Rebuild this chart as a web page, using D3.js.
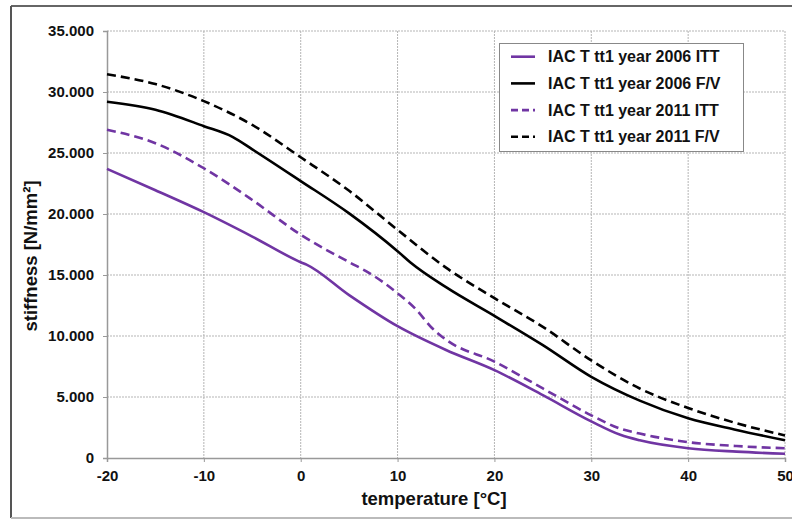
<!DOCTYPE html>
<html>
<head>
<meta charset="utf-8">
<script src="https://cdn.jsdelivr.net/npm/d3@7"></script>
<style>
    body { margin: 0; background: #fff; }
    text { font-family: "Liberation Sans", Arial, sans-serif; font-weight: bold; fill: #111; }
</style>
</head>
<body>
<div class="chart"></div>
<script>
var svgWidth = 792;
var svgHeight = 520;

var margin = { top: 31, right: 7, bottom: 62, left: 107 };
var width = svgWidth - margin.left - margin.right;
var height = svgHeight - margin.top - margin.bottom;

// data
var seriesNames = ["IAC T tt1 year 2006 ITT", "IAC T tt1 year 2006 F/V", "IAC T tt1 year 2011 ITT", "IAC T tt1 year 2011 F/V"];

var itt2006T = [-20, -15, -10, -5, 0, 0.6, 5, 10, 15, 20, 25, 30, 33, 35, 40, 45, 50];
var itt2006V = [23700, 21950, 20150, 18150, 16050, 15850, 13350, 10800, 8850, 7200, 5150, 3000, 1900, 1450, 800, 520, 350];

var fv2006T = [-20, -15, -10, -7, -5, 0, 5, 10, 11.3, 15, 20, 25, 30, 35, 40, 45, 50];
var fv2006V = [29200, 28550, 27200, 26300, 25300, 22700, 20050, 16950, 16050, 14000, 11650, 9250, 6650, 4700, 3250, 2300, 1450];

var itt2011T = [-20, -15, -10, -5, 0, 5, 7, 10, 12, 13.5, 15, 20, 25, 30, 33, 35, 40, 45, 50];
var itt2011V = [26900, 25800, 23750, 21150, 18300, 16050, 15200, 13500, 12100, 10700, 9700, 7900, 5700, 3500, 2400, 2000, 1300, 980, 800];

var fv2011T = [-20, -15, -10, -5, 0, 5, 10, 15, 20, 25, 30, 35, 40, 45, 50];
var fv2011V = [31450, 30650, 29250, 27300, 24650, 21900, 18700, 15600, 13100, 10750, 8000, 5700, 4100, 2850, 1850];

var xTicks = [-20, -10, 0, 10, 20, 30, 40, 50];
var yTicks = [0, 5000, 10000, 15000, 20000, 25000, 30000, 35000];

var purple = "#7035a3";
var series = [
    { name: seriesNames[0], t: itt2006T, v: itt2006V, color: purple, dash: null },
    { name: seriesNames[1], t: fv2006T, v: fv2006V, color: "#000", dash: null },
    { name: seriesNames[2], t: itt2011T, v: itt2011V, color: purple, dash: "9,5" },
    { name: seriesNames[3], t: fv2011T, v: fv2011V, color: "#000", dash: "9,5" }
];

var svg = d3.select(".chart")
    .append("svg")
    .attr("width", svgWidth)
    .attr("height", svgHeight);

// outer frame
svg.append("line").attr("x1", 11).attr("x2", svgWidth).attr("y1", 6).attr("y2", 6)
    .attr("stroke", "#666").attr("stroke-width", 2);
svg.append("line").attr("x1", 11).attr("x2", 11).attr("y1", 6).attr("y2", 518)
    .attr("stroke", "#555").attr("stroke-width", 2);
svg.append("line").attr("x1", 11).attr("x2", svgWidth).attr("y1", 518).attr("y2", 518)
    .attr("stroke", "#bbb").attr("stroke-width", 2);

var chartGroup = svg.append("g")
    .attr("transform", `translate(${margin.left}, ${margin.top})`);

var xLinearScale = d3.scaleLinear().domain([-20, 50]).range([0, width]);
var yLinearScale = d3.scaleLinear().domain([0, 35000]).range([height, 0]);

// grid
chartGroup.append("g")
    .selectAll("line")
    .data(xTicks.slice(1))
    .enter()
    .append("line")
    .attr("x1", d => xLinearScale(d)).attr("x2", d => xLinearScale(d))
    .attr("y1", 0).attr("y2", height)
    .attr("stroke", "#b5b5b5").attr("stroke-dasharray", "2,1");

chartGroup.append("g")
    .selectAll("line")
    .data(yTicks.slice(1))
    .enter()
    .append("line")
    .attr("x1", 0).attr("x2", width)
    .attr("y1", d => yLinearScale(d)).attr("y2", d => yLinearScale(d))
    .attr("stroke", "#b5b5b5").attr("stroke-dasharray", "2,1");

var fmt = d => d === 0 ? "0" : d3.format(",")(d).replace(",", ".");

var bottomAxis = d3.axisBottom(xLinearScale).tickValues(xTicks).tickSize(4).tickPadding(8)
    .tickFormat(d => String(d));
var leftAxis = d3.axisLeft(yLinearScale).tickValues(yTicks).tickSize(4).tickPadding(9).tickFormat(fmt);

var xAxis = chartGroup.append("g")
    .attr("transform", `translate(0, ${height})`)
    .call(bottomAxis);

var yAxis = chartGroup.append("g")
    .call(leftAxis);

[xAxis, yAxis].forEach(function (ax) {
    ax.select(".domain").attr("stroke", "#999").attr("stroke-width", 1.5);
    ax.selectAll(".tick line").attr("stroke", "#999");
    ax.selectAll(".tick text")
        .style("font-family", "'Liberation Sans', Arial, sans-serif")
        .style("font-weight", "bold")
        .style("font-size", "15px")
        .attr("fill", "#111");
});

// lines
var line = d3.line()
    .x(d => xLinearScale(d[0]))
    .y(d => yLinearScale(d[1]))
    .curve(d3.curveMonotoneX);

series.forEach(function (s) {
    chartGroup.append("path")
        .datum(s.t.map((t, i) => [t, s.v[i]]))
        .attr("d", line)
        .attr("fill", "none")
        .attr("stroke", s.color)
        .attr("stroke-width", 2.6)
        .attr("stroke-dasharray", s.dash);
});

// axis titles
chartGroup.append("text")
    .attr("x", 327)
    .attr("y", height + 47)
    .attr("text-anchor", "middle")
    .style("font-size", "18.5px")
    .text("temperature [°C]");

chartGroup.append("text")
    .attr("transform", "rotate(-90)")
    .attr("x", -(256 - margin.top))
    .attr("y", -70)
    .attr("text-anchor", "middle")
    .style("font-size", "18.5px")
    .text("stiffness [N/mm²]");

// legend
var legend = svg.append("g");
legend.append("rect")
    .attr("x", 499.5).attr("y", 43.5)
    .attr("width", 244).attr("height", 108)
    .attr("fill", "#fff").attr("stroke", "#888");

var rows = legend.selectAll(".row")
    .data(series)
    .enter()
    .append("g")
    .attr("transform", (d, i) => `translate(0, ${56.7 + i * 26.7})`);

rows.append("line")
    .attr("x1", 511).attr("x2", 535)
    .attr("y1", 0).attr("y2", 0)
    .attr("stroke", d => d.color)
    .attr("stroke-width", 2.6)
    .attr("stroke-dasharray", d => d.dash ? "7,4" : null);

rows.append("text")
    .attr("x", 548)
    .attr("y", 5.5)
    .style("font-size", "16px")
    .text(d => d.name);
</script>
</body>
</html>
